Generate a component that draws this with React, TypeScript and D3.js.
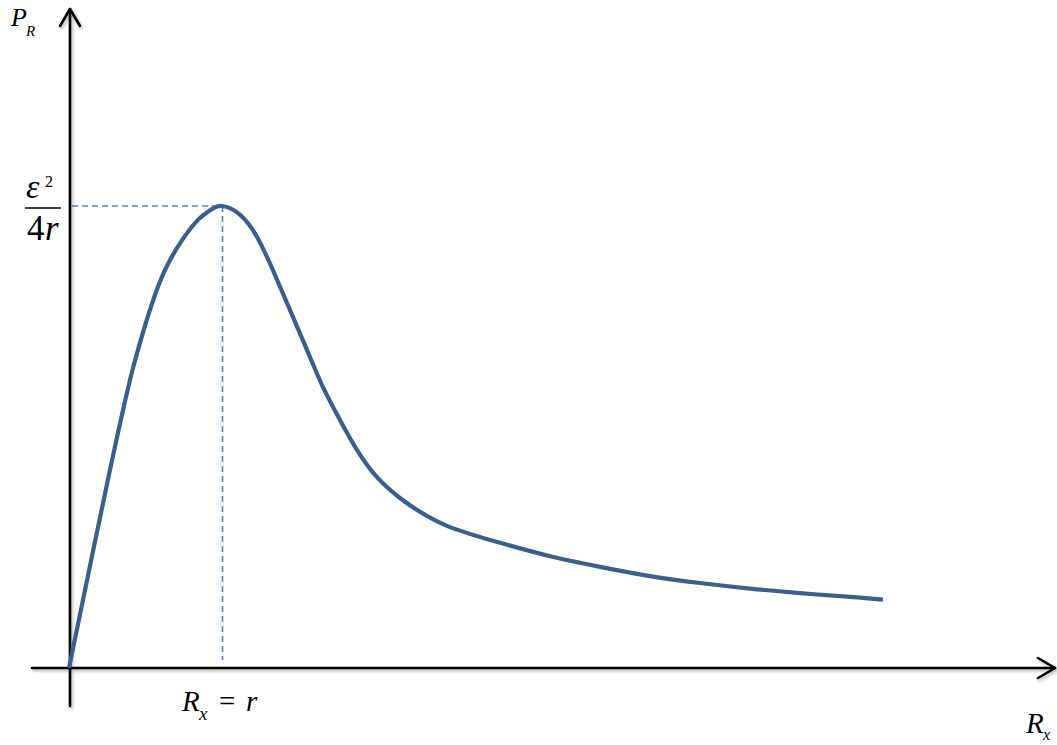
import React from 'react';
import * as d3 from 'd3';

// R_x in units of r, P_R as a fraction of the maximum e^2/4r
const rxValues = [0, 0.157, 0.268, 0.314, 0.353, 0.412, 0.477, 0.542, 0.627, 0.739, 0.843, 0.922, 1, 1.118, 1.229, 1.333, 1.444, 1.556, 1.66, 1.771, 1.882, 2.013, 2.163, 2.294, 2.49, 2.817, 3.144, 3.471, 3.797, 4.124, 4.451, 4.778, 5.105, 5.32];
const prValues = [0, 0.253, 0.429, 0.5, 0.558, 0.641, 0.719, 0.788, 0.861, 0.926, 0.97, 0.991, 1, 0.981, 0.933, 0.861, 0.775, 0.688, 0.608, 0.537, 0.472, 0.413, 0.368, 0.338, 0.305, 0.271, 0.242, 0.219, 0.199, 0.184, 0.172, 0.162, 0.154, 0.148];
const peakX = 1;
const peakY = 1;

const W = 1057;
const H = 745;
const mathFont = '"Liberation Serif", "Times New Roman", "DejaVu Serif", serif';

const App = () => {
  const x = d3.scaleLinear().domain([0, 1]).range([69, 222]);
  const y = d3.scaleLinear().domain([0, 1]).range([668, 206]);

  const points: [number, number][] = rxValues.map((v, i) => [v, prValues[i]]);
  const line = d3.line<[number, number]>()
    .x(d => x(d[0]))
    .y(d => y(d[1]))
    .curve(d3.curveNatural);

  const x0 = x(0) + 1;
  const y0 = y(0);
  const axisLeft = 32;
  const axisRight = 1055;
  const axisTop = 9;
  const axisBottom = 706;

  const t = (italic: boolean, size: number) => ({
    fontFamily: mathFont,
    fontStyle: italic ? 'italic' : 'normal',
    fontSize: size,
  });

  return (
    <svg width={W} height={H} style={{ position: 'absolute', left: 0, top: 0, display: 'block', background: '#fff' }}>
      <defs>
        <filter id="shadow" x="-10%" y="-10%" width="120%" height="120%">
          <feDropShadow dx="1.5" dy="2" stdDeviation="1.5" floodColor="#000" floodOpacity="0.3" />
        </filter>
      </defs>

      {/* axes */}
      <g stroke="#000" strokeWidth={2.6} fill="none" filter="url(#shadow)" strokeLinecap="round" strokeLinejoin="round">
        <line x1={axisLeft} y1={y0} x2={axisRight} y2={y0} />
        <polyline points={`${axisRight - 17},${y0 - 10} ${axisRight},${y0} ${axisRight - 17},${y0 + 10}`} />
        <line x1={x0} y1={axisBottom} x2={x0} y2={axisTop} />
        <polyline points={`${x0 - 10},${axisTop + 17} ${x0},${axisTop} ${x0 + 10},${axisTop + 17}`} />
      </g>

      {/* dashed guides to the peak */}
      <g stroke="#4F81BD" strokeWidth={1.6} strokeDasharray="6,4" fill="none">
        <line x1={x0 + 2} y1={y(peakY)} x2={x(peakX)} y2={y(peakY)} />
        <line x1={x(peakX) + 0.5} y1={y(peakY)} x2={x(peakX) + 0.5} y2={660} />
      </g>

      {/* curve */}
      <path d={line(points) ?? ''} fill="none" stroke="#3B5E8C" strokeWidth={4.2} strokeLinecap="butt" />

      {/* labels */}
      <g fill="#000">
        <text x={11} y={26} style={t(true, 26)}>P</text>
        <text x={26} y={36} style={t(true, 15)}>R</text>

        <text x={26} y={198} style={t(true, 34)}>ε</text>
        <text x={45} y={187} style={t(false, 16)}>2</text>
        <line x1={25} y1={208} x2={61} y2={208} stroke="#000" strokeWidth={1.3} />
        <text x={27} y={240} style={t(false, 35)}>4</text>
        <text x={45} y={240} style={t(true, 35)}>r</text>

        <text x={182} y={711} style={t(true, 29)}>R</text>
        <text x={199} y={720} style={t(true, 19)}>x</text>
        <text x={219} y={711} style={t(false, 29)}>=</text>
        <text x={246} y={711} style={t(true, 29)}>r</text>

        <text x={1026} y={733} style={t(true, 29)}>R</text>
        <text x={1043} y={740} style={t(true, 16)}>x</text>
      </g>
    </svg>
  );
};

export default App;
